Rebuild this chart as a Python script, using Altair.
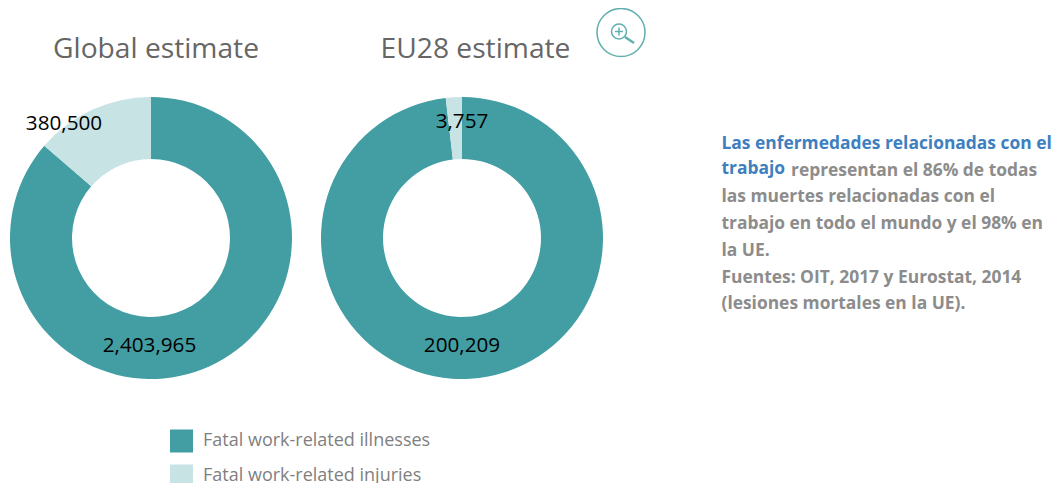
import altair as alt
import pandas as pd

series = ["Fatal work-related illnesses", "Fatal work-related injuries"]
colors = ["#429ea3", "#c7e3e3"]
global_values = [2403965, 380500]
eu_values = [200209, 3757]
panel_titles = ["Global estimate", "EU28 estimate"]
value_labels = ["2,403,965", "380,500", "200,209", "3,757"]
note_lines = [
    "Las enfermedades relacionadas con el",
    "trabajo",
    "representan el 86% de todas",
    "las muertes relacionadas con el",
    "trabajo en todo el mundo y el 98% en",
    "la UE.",
    "Fuentes: OIT, 2017 y Eurostat, 2014",
    "(lesiones mortales en la UE).",
]

FONT = "Open Sans"
OFF = 8


def px(v):
    return alt.value(v - OFF)


def label(text, x, y, size, color, weight="normal", align="left"):
    return (
        alt.Chart(pd.DataFrame({"t": [text]}))
        .mark_text(font=FONT, fontSize=size, color=color, fontWeight=weight, align=align, baseline="middle")
        .encode(x=px(x), y=px(y), text="t:N")
    )


def donut(values, cx, cy):
    df = pd.DataFrame({"series": series, "value": values, "rank": [0, 1]})
    return (
        alt.Chart(df)
        .mark_arc(radius=141, radius2=79, stroke=None)
        .encode(
            x=px(cx),
            y=px(cy),
            theta=alt.Theta("value:Q", stack="normalize"),
            order=alt.Order("rank:O"),
            color=alt.Color(
                "series:N",
                scale=alt.Scale(domain=series, range=colors),
                legend=alt.Legend(
                    title=None,
                    orient="none",
                    legendX=170 - OFF,
                    legendY=429.5 - OFF,
                    symbolType="square",
                    symbolSize=529,
                    symbolStrokeWidth=0,
                    symbolOpacity=1,
                    labelFont=FONT,
                    labelFontSize=18,
                    labelColor="#7f7f7f",
                    labelOffset=10,
                    rowPadding=12,
                    labelLimit=400,
                ),
            ),
        )
    )


gray = "#8c8c8c"
blue = "#3d7fbf"
NOTE = 17.4
layers = [
    donut(global_values, 151, 238),
    donut(eu_values, 462, 238),
    label(panel_titles[0], 156, 49.5, 28.2, "#666666", align="center"),
    label(panel_titles[1], 475.5, 49.5, 28.2, "#666666", align="center"),
    label(value_labels[0], 149.5, 345.5, 20.7, "#000000", align="center"),
    label(value_labels[1], 64, 123.5, 20.7, "#000000", align="center"),
    label(value_labels[2], 462, 345.5, 20.7, "#000000", align="center"),
    label(value_labels[3], 462, 121.5, 20.7, "#000000", align="center"),
    label(note_lines[0], 721.5, 144, NOTE, blue, "bold"),
    label(note_lines[1], 721.5, 169, NOTE, blue, "bold"),
    label(note_lines[2], 791, 171, NOTE, gray, "bold"),
    label(note_lines[3], 721.5, 197, NOTE, gray, "bold"),
    label(note_lines[4], 721.5, 224, NOTE, gray, "bold"),
    label(note_lines[5], 721.5, 251, NOTE, gray, "bold"),
    label(note_lines[6], 721.5, 278, NOTE, gray, "bold"),
    label(note_lines[7], 721.5, 304, NOTE, gray, "bold"),
]

# zoom icon
icon = "#5fb0ae"
icon_df = pd.DataFrame({"a": [1]})
layers += [
    alt.Chart(icon_df).mark_point(shape="circle", size=2304, filled=False, stroke=icon, strokeWidth=1.5, opacity=1)
    .encode(x=px(621), y=px(32.5)),
    alt.Chart(icon_df).mark_point(shape="circle", size=225, filled=False, stroke=icon, strokeWidth=1.5, opacity=1)
    .encode(x=px(619), y=px(31.5)),
    alt.Chart(icon_df).mark_rule(stroke=icon, strokeWidth=1.5).encode(x=px(615), x2=px(623), y=px(31.5)),
    alt.Chart(icon_df).mark_rule(stroke=icon, strokeWidth=1.5).encode(x=px(619), y=px(27.5), y2=px(35.5)),
    alt.Chart(icon_df).mark_rule(stroke=icon, strokeWidth=2.5).encode(x=px(625), x2=px(634), y=px(37), y2=px(43)),
]

chart = (
    alt.layer(*layers)
    .properties(width=1046, height=475, padding=0, autosize=alt.AutoSizeParams(type="none"), background="#ffffff")
    .configure_view(stroke=None)
)

chart.save("out.html", embed_options={"renderer": "svg", "actions": False})
